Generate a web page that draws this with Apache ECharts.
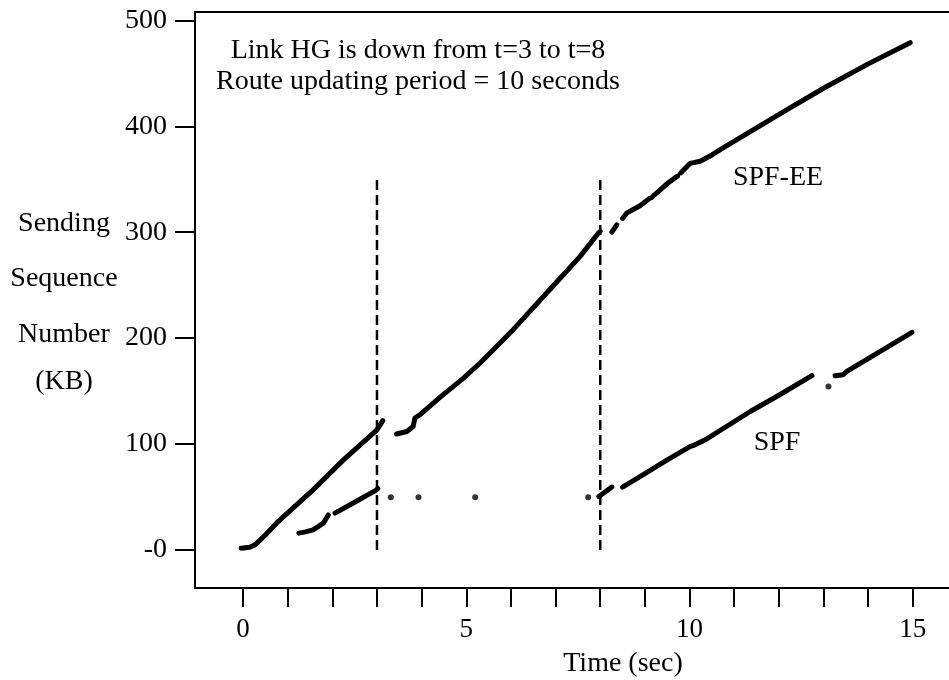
<!DOCTYPE html>
<html lang="en">
<head>
    <meta http-equiv="Content-Type" content="text/html; charset=UTF-8">
    <title>Sending sequence number vs time</title>
    <script type="text/javascript" src="https://cdn.jsdelivr.net/npm/echarts@6/dist/echarts.min.js"></script>
    <style>
        html, body { margin: 0; padding: 0; background: #fff; }
        #chart { width: 949px; height: 680px; }
    </style>
</head>
<body>
<div id="chart"></div>
<script type="text/javascript">
    // tick positions and labels
    var xTicks = [0, 1, 2, 3, 4, 5, 6, 7, 8, 9, 10, 11, 12, 13, 14, 15];
    var xTickLabels = [0, 5, 10, 15];
    var yTicks = [0, 100, 200, 300, 400, 500];

    // SPF-EE trace (time in sec, sequence in KB); null = break in the trace
    var spfEeTime = [-0.04, 0.15, 0.27, 0.5, 0.75, 1.0, 1.57, 2.25, 3.0, 3.13, null,
        3.44, 3.67, 3.81, 3.85, 3.96, 4.41, 4.93, 5.31, 6.05, 6.8, 7.55, 7.96, 8.0, null,
        8.26, 8.37, null, 8.5, 8.59, 8.89, 9.11, null, 9.16, 9.26, 9.5, 9.73, null,
        9.8, 10.01, 10.24, 10.5, 10.76, 11.5, 12.25, 13.0, 14.0, 14.94];
    var spfEeSeq = [1.6, 2.5, 4.7, 14, 25.2, 35, 56.7, 85, 113.4, 122, null,
        109.4, 111.8, 116.5, 124.5, 127.6, 144, 162, 176.5, 208, 242.6, 277.2, 299.3, 301, null,
        300, 307, null, 313, 318, 325, 332, null, 333, 337, 346, 353, null,
        356, 365, 367, 373, 380, 398.6, 417.5, 436, 459, 479];

    // SPF trace
    var spfTime = [1.25, 1.4, 1.57, 1.8, 1.91, null, 2.06, 2.5, 2.99, 3.02, null,
        7.97, 8.26, null, 8.5, 9.0, 9.5, 10.01, 10.12, 10.35, 11.36, 12.0, 12.74, null,
        13.26, 13.44, 13.52, 14.0, 14.98];
    var spfSeq = [15.8, 17, 18.9, 25.2, 33, null, 34.7, 45, 56.7, 58, null,
        50.4, 59.3, null, 59.3, 72, 85, 97.6, 99.2, 104, 130.7, 146, 164.5, null,
        164.5, 165.4, 168.5, 180.6, 205.4];

    // isolated SPF packets
    var spfDotTime = [3.31, 3.93, 5.2, 7.73, 13.11];
    var spfDotSeq = [49.8, 49.8, 49.8, 49.8, 154.3];

    // link down / up markers
    var markTimes = [3, 8];
    var markRange = [0, 350];

    function toPairs(ts, vs) {
        return ts.map(function (t, i) {
            return t === null ? ['-', '-'] : [t, vs[i]];
        });
    }

    var markData = [];
    markTimes.forEach(function (t, i) {
        if (i > 0) markData.push(['-', '-']);
        markData.push([t, markRange[0]], [t, markRange[1]]);
    });

    var ink = '#000';
    var serif = 'Liberation Serif';
    var font = '28px "Liberation Serif"';

    function label(text, x, y) {
        return {
            type: 'text', x: x, y: y,
            style: { text: text, font: font, fill: ink, align: 'center', verticalAlign: 'middle' }
        };
    }

    var myChart = echarts.init(document.getElementById('chart'));
    myChart.setOption({
        animation: false,
        backgroundColor: '#fff',
        grid: { left: 195, right: 0, top: 12, bottom: 92 },
        xAxis: [{
            type: 'value',
            min: -1.075,
            max: 15.81,
            splitLine: { show: false },
            axisLine: { onZero: false, lineStyle: { color: ink, width: 2 } },
            axisTick: { customValues: xTicks, length: 19, lineStyle: { color: ink, width: 2 } },
            axisLabel: {
                customValues: xTickLabels,
                margin: 28,
                color: ink,
                fontFamily: serif,
                fontSize: 27
            }
        }, {
            // top frame line
            type: 'value',
            position: 'top',
            min: -1.075,
            max: 15.81,
            splitLine: { show: false },
            axisLine: { onZero: false, lineStyle: { color: ink, width: 2 } },
            axisTick: { show: false },
            axisLabel: { show: false }
        }],
        yAxis: {
            type: 'value',
            min: -36,
            max: 508,
            splitLine: { show: false },
            axisLine: { onZero: false, lineStyle: { color: ink, width: 2 } },
            axisTick: { customValues: yTicks, length: 20, lineStyle: { color: ink, width: 2 } },
            axisLabel: {
                customValues: yTicks,
                margin: 28,
                color: ink,
                fontFamily: serif,
                fontSize: 28,
                formatter: function (v) { return v === 0 ? '-0' : String(v); }
            }
        },
        series: [{
            name: 'SPF-EE',
            type: 'line',
            data: toPairs(spfEeTime, spfEeSeq),
            showSymbol: false,
            connectNulls: false,
            lineStyle: { color: ink, width: 5, cap: 'round', join: 'round' }
        }, {
            name: 'SPF',
            type: 'line',
            data: toPairs(spfTime, spfSeq),
            showSymbol: false,
            connectNulls: false,
            lineStyle: { color: ink, width: 5, cap: 'round', join: 'round' }
        }, {
            name: 'SPF dots',
            type: 'scatter',
            data: toPairs(spfDotTime, spfDotSeq),
            symbolSize: 6,
            itemStyle: { color: ink }
        }, {
            name: 'link events',
            type: 'line',
            data: markData,
            showSymbol: false,
            connectNulls: false,
            lineStyle: { color: ink, width: 2.5, type: [10, 5] }
        }],
        graphic: [
            label('Link HG is down from t=3 to t=8', 418, 51),
            label('Route updating period = 10 seconds', 418, 82),
            label('SPF-EE', 778, 178),
            label('SPF', 777, 443),
            label('Sending', 64, 224),
            label('Sequence', 64, 279),
            label('Number', 64, 335),
            label('(KB)', 64, 382),
            label('Time (sec)', 623, 664)
        ]
    });

    window.addEventListener('resize', function () {
        myChart.resize();
    });
</script>
</body>
</html>
